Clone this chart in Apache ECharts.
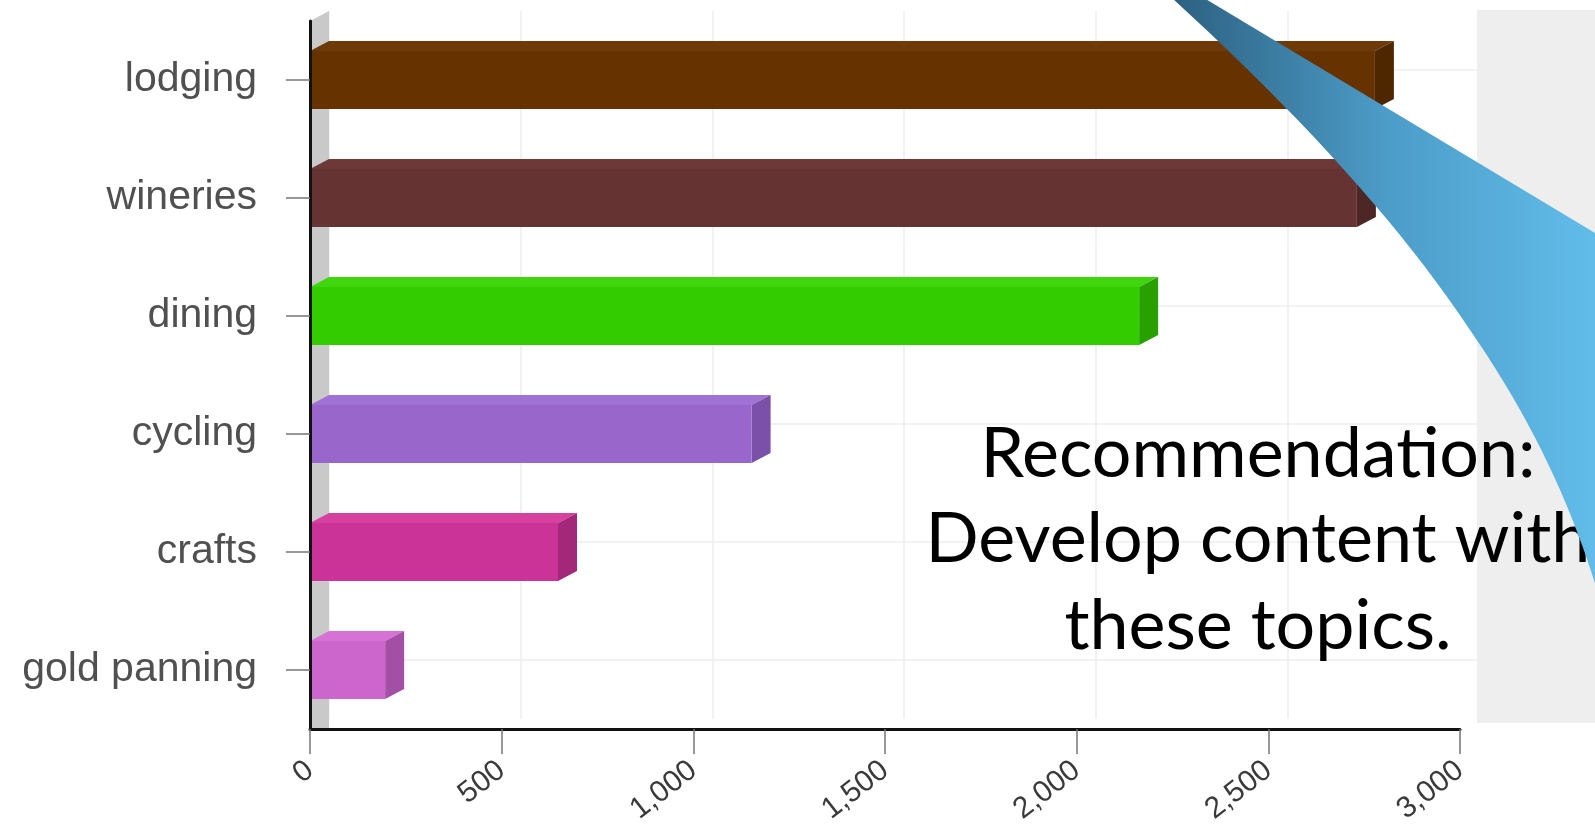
<!DOCTYPE html>
<html>
<head>
<meta charset="utf-8">
<script src="https://cdn.jsdelivr.net/npm/echarts@6/dist/echarts.min.js"></script>
<style>
html,body{margin:0;padding:0;background:#fff;}
#chart{width:1595px;height:835px;}
</style>
</head>
<body>
<div id="chart"></div>
<script>
// ---- data ----
const categories = ['lodging', 'wineries', 'dining', 'cycling', 'crafts', 'gold panning'];
const values = [2778, 2731, 2163, 1152, 647, 196];
const xTickLabels = ['0', '500', '1,000', '1,500', '2,000', '2,500', '3,000'];
const noteLines = ['Recommendation:', 'Develop content with', 'these topics.'];

// ---- styles ----
const frontColors = ['#663300', '#663333', '#33cc00', '#9966cc', '#cc3399', '#cc66cc'];
const topColors   = ['#6e3a08', '#6d3838', '#3fd60d', '#a172d6', '#d6409f', '#d672d6'];
const sideColors  = ['#4e2600', '#4d2626', '#28a000', '#7a50a8', '#a3287a', '#a34fa6'];
const DX = 19, DY = -10;
const X_MAX = 3000;

const chart = echarts.init(document.getElementById('chart'), null, {renderer: 'canvas'});

const GL = 310, GT = 21, GW = 1150, GH = 708;

function renderBar(params, api) {
  const v = api.value(0);
  const ci = api.value(1);
  const i = params.dataIndex;
  const p0 = api.coord([0, ci]);
  const p1 = api.coord([v, ci]);
  const pEnd = api.coord([X_MAX, ci]);
  const band = api.size([0, 1])[1];
  const h = band * 0.49;
  const yT = p0[1] - h / 2, yB = p0[1] + h / 2;
  const x0 = p0[0], x1 = p1[0];
  const children = [];
  children.push({
    type: 'line',
    shape: {x1: x0 + DX, y1: p0[1] + DY, x2: pEnd[0] + DX, y2: p0[1] + DY},
    style: {stroke: '#eeeeee', lineWidth: 1.5}
  });
  if (i === 0) {
    const top = api.coord([0, 0])[1] - band / 2;
    const bot = api.coord([0, categories.length - 1])[1] + band / 2;
    children.push({
      type: 'polygon',
      shape: {points: [[x0, top], [x0 + DX, top + DY], [x0 + DX, bot], [x0, bot]]},
      style: {fill: '#c9c9c9'}
    });
  }
  children.push({
    type: 'polygon',
    shape: {points: [[x0, yT], [x1, yT], [x1 + DX, yT + DY], [x0 + DX, yT + DY]]},
    style: {fill: topColors[i]}
  });
  children.push({
    type: 'polygon',
    shape: {points: [[x1, yT], [x1 + DX, yT + DY], [x1 + DX, yB + DY], [x1, yB]]},
    style: {fill: sideColors[i]}
  });
  children.push({
    type: 'rect',
    shape: {x: x0, y: yT, width: x1 - x0, height: yB - yT},
    style: {fill: frontColors[i]}
  });
  return {type: 'group', children: children};
}

// swoosh outline (decoration): cubic bezier sampling
function bez(p0, p1, p2, p3, n) {
  const out = [];
  for (let k = 0; k <= n; k++) {
    const t = k / n, u = 1 - t;
    out.push([
      u*u*u*p0[0] + 3*u*u*t*p1[0] + 3*u*t*t*p2[0] + t*t*t*p3[0],
      u*u*u*p0[1] + 3*u*u*t*p1[1] + 3*u*t*t*p2[1] + t*t*t*p3[1]
    ]);
  }
  return out;
}
const swooshPts = [[1172, -2], [1204, -2], [1600, 236], [1600, 600]]
  .concat(bez([1600, 600], [1572, 505], [1532, 420], [1470, 330], 20).slice(1))
  .concat(bez([1470, 330], [1400, 225], [1305, 120], [1172, -2], 20).slice(1));

const option = {
  backgroundColor: '#ffffff',
  animation: false,
  grid: [
    {left: GL, top: GT, width: GW, height: GH},
    {left: GL + DX, top: GT + DY, width: GW, height: GH}
  ],
  xAxis: [
    {
      gridIndex: 0, type: 'value', min: 0, max: X_MAX, interval: 500, z: 20,
      axisLine: {show: true, lineStyle: {color: '#111', width: 3}},
      axisTick: {show: true, length: 25, lineStyle: {color: '#777', width: 1.5}},
      splitLine: {show: false},
      axisLabel: {
        rotate: 38, margin: 38, fontSize: 30, color: '#3a3a3a',
        fontFamily: 'Liberation Sans, Arial, sans-serif',
        formatter: function (val) { return xTickLabels[Math.round(val / 500)]; }
      }
    },
    {
      gridIndex: 1, type: 'value', min: 0, max: X_MAX, interval: 500,
      axisLine: {show: false}, axisTick: {show: false}, axisLabel: {show: false},
      splitLine: {show: true, lineStyle: {color: '#eeeeee', width: 1.5}}
    }
  ],
  yAxis: [
    {
      gridIndex: 0, type: 'category', data: categories, inverse: true, z: 20,
      axisLine: {show: true, lineStyle: {color: '#111', width: 3}},
      axisTick: {show: true, alignWithLabel: true, length: 24, lineStyle: {color: '#777', width: 1.5}},
      splitLine: {show: false},
      axisLabel: {
        margin: 53, fontSize: 41, color: '#505050',
        fontFamily: 'Liberation Sans, Arial, sans-serif'
      }
    },
    {
      gridIndex: 1, type: 'category', data: categories, inverse: true,
      axisLine: {show: false}, axisTick: {show: false}, axisLabel: {show: false},
      splitLine: {show: false}
    }
  ],
  series: [
    {
      type: 'custom',
      xAxisIndex: 0, yAxisIndex: 0,
      renderItem: renderBar,
      encode: {x: 0, y: 1},
      data: values.map(function (v, i) { return [v, i]; }),
      z: 5
    }
  ],
  graphic: [
    {
      type: 'rect', z: -10, silent: true,
      shape: {x: 1477, y: 10, width: 130, height: 713},
      style: {fill: '#eeeeee'}
    },
    {
      type: 'text', z: 50, silent: true, x: 1258, y: 454,
      style: {text: noteLines[0], fontSize: 70, fontFamily: 'Lato, sans-serif', fill: '#000', align: 'center', verticalAlign: 'middle'}
    },
    {
      type: 'text', z: 50, silent: true, x: 1258, y: 539,
      style: {text: noteLines[1], fontSize: 70, fontFamily: 'Lato, sans-serif', fill: '#000', align: 'center', verticalAlign: 'middle'}
    },
    {
      type: 'text', z: 50, silent: true, x: 1258, y: 626,
      style: {text: noteLines[2], fontSize: 70, fontFamily: 'Lato, sans-serif', fill: '#000', align: 'center', verticalAlign: 'middle'}
    },
    {
      type: 'polygon', z: 100, silent: true,
      shape: {points: swooshPts},
      style: {
        fill: {
          type: 'linear', x: 0, y: 0, x2: 1, y2: 0,
          colorStops: [
            {offset: 0, color: '#2c6080'},
            {offset: 0.5, color: '#4c9cc8'},
            {offset: 1, color: '#62bdea'}
          ]
        }
      }
    }
  ]
};

chart.setOption(option);
</script>
</body>
</html>
